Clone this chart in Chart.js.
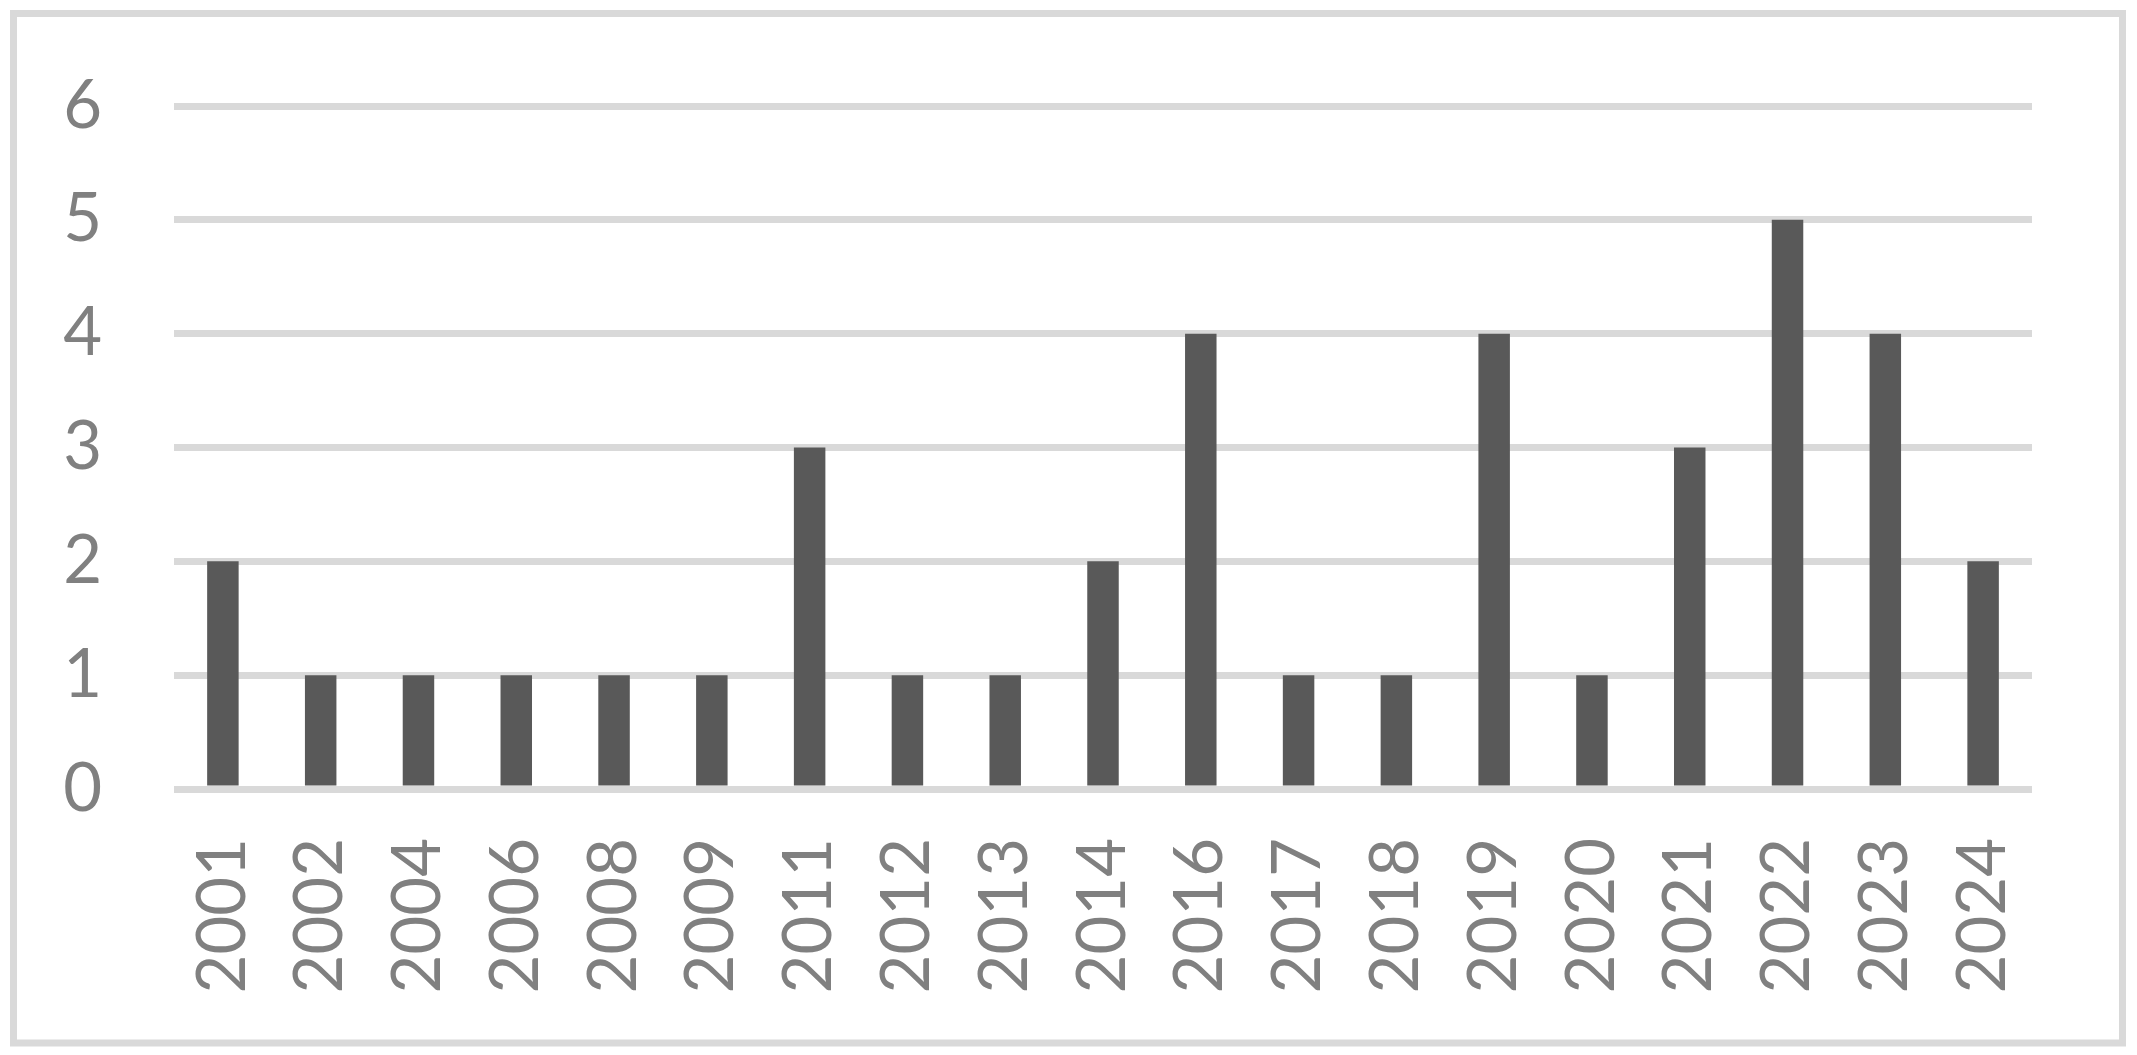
<!DOCTYPE html>
<html>
<head>
<meta charset="utf-8">
<style>
  html, body { margin: 0; padding: 0; background: #fff; }
  #wrap { width: 2137px; height: 1055px; }
</style>
<script src="https://cdn.jsdelivr.net/npm/chart.js"></script>
</head>
<body>
<div id="wrap"><canvas id="chart" width="2137" height="1055"></canvas></div>
<script>
// Chart data
const years = ['2001', '2002', '2004', '2006', '2008', '2009', '2011', '2012', '2013', '2014',
  '2016', '2017', '2018', '2019', '2020', '2021', '2022', '2023', '2024'];
const counts = [2, 1, 1, 1, 1, 1, 3, 1, 1, 2, 4, 1, 1, 4, 1, 3, 5, 4, 2];
const yTicks = [0, 1, 2, 3, 4, 5, 6];

// Light grey frame around the whole chart
const framePlugin = {
  id: 'frame',
  afterDraw(chart) {
    const ctx = chart.ctx;
    ctx.save();
    ctx.strokeStyle = '#d9d9d9';
    ctx.lineWidth = 7;
    ctx.strokeRect(13.5, 13.5, 2109, 1029.5);
    ctx.restore();
  }
};

const tickFont = { family: 'Lato', size: 67 };

const ctx = document.getElementById('chart').getContext('2d');
new Chart(ctx, {
  type: 'bar',
  data: {
    labels: years,
    datasets: [{
      data: counts,
      backgroundColor: '#595959',
      barPercentage: 0.322,
      categoryPercentage: 1
    }]
  },
  options: {
    responsive: false,
    animation: false,
    devicePixelRatio: 1,
    layout: { padding: { top: 106, right: 105, bottom: 0, left: 0 } },
    plugins: {
      legend: { display: false },
      tooltip: { enabled: false }
    },
    scales: {
      x: {
        grid: { display: false, drawTicks: false },
        border: { display: false },
        ticks: {
          color: '#808080',
          font: tickFont,
          minRotation: 90,
          maxRotation: 90,
          padding: 49
        },
        afterFit(scale) {
          scale.height = 266;
          scale.paddingLeft = 0;
          scale.paddingRight = 0;
        }
      },
      y: {
        min: yTicks[0],
        max: yTicks[yTicks.length - 1],
        grid: { color: '#d9d9d9', lineWidth: 7, drawTicks: false },
        border: { display: false },
        ticks: {
          stepSize: 1,
          color: '#808080',
          font: tickFont,
          padding: 72
        },
        afterFit(scale) {
          scale.width = 174;
          scale.paddingTop = 0;
          scale.paddingBottom = 0;
        }
      }
    }
  },
  plugins: [framePlugin]
});
</script>
</body>
</html>
